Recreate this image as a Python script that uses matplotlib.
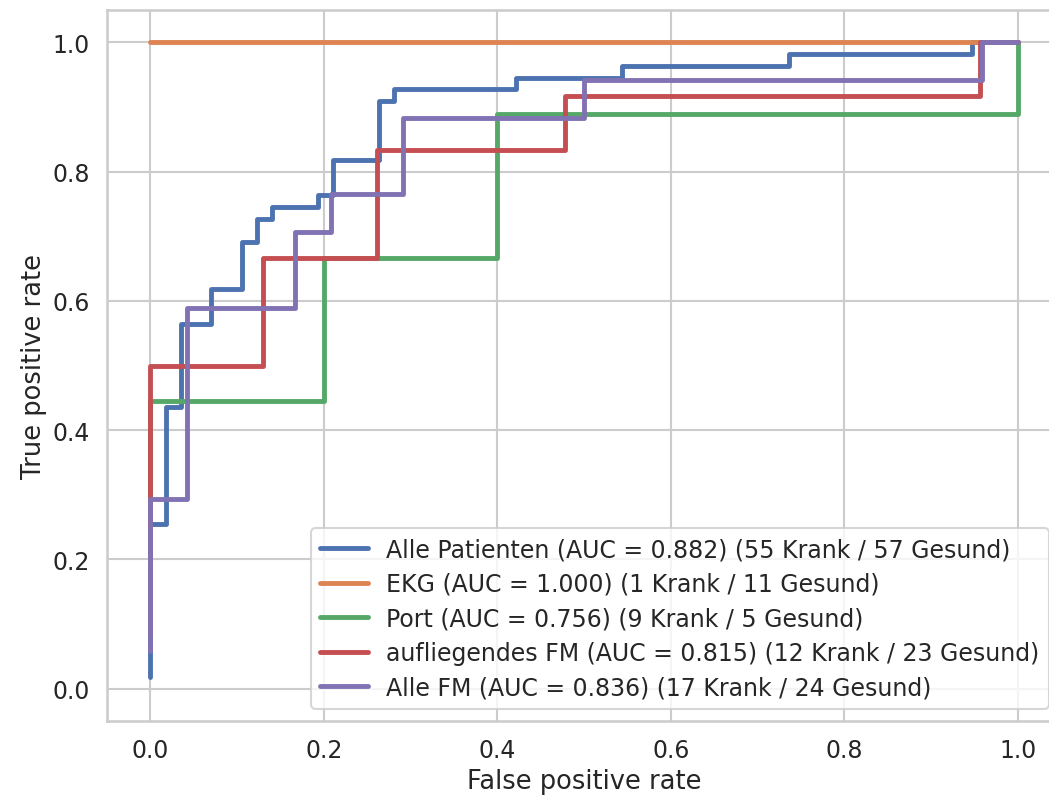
import numpy as np
import matplotlib
matplotlib.use("Agg")
import matplotlib.pyplot as plt
import seaborn as sns

# ROC points as counts: fpr in units of 1/n_neg, tpr in units of 1/n_pos
labels = ["Alle Patienten", "EKG", "Port", "aufliegendes FM", "Alle FM"]
aucs = [0.882, 1.000, 0.756, 0.815, 0.836]
n_pos = [55, 1, 9, 12, 17]   # Krank
n_neg = [57, 11, 5, 23, 24]  # Gesund

fp_all = [0, 0, 1, 1, 2, 2, 4, 4, 6, 6, 7, 7, 8, 8, 11, 11, 12, 12, 15, 15,
          16, 16, 24, 24, 31, 31, 42, 42, 54, 54, 57]
tp_all = [1, 14, 14, 24, 24, 31, 31, 34, 34, 38, 38, 40, 40, 41, 41, 42, 42, 45, 45, 50,
          50, 51, 51, 52, 52, 53, 53, 54, 54, 55, 55]
fp_ekg = [0, 11]
tp_ekg = [1, 1]
fp_port = [0, 0, 1, 1, 2, 2, 5, 5]
tp_port = [1, 4, 4, 6, 6, 8, 8, 9]
fp_auf = [0, 0, 3, 3, 6, 6, 11, 11, 22, 22, 23]
tp_auf = [1, 6, 6, 8, 8, 10, 10, 11, 11, 12, 12]
fp_fm = [0, 0, 1, 1, 4, 4, 5, 5, 7, 7, 12, 12, 23, 23, 24]
tp_fm = [1, 5, 5, 10, 10, 12, 12, 13, 13, 15, 15, 16, 16, 17, 17]

fps = [fp_all, fp_ekg, fp_port, fp_auf, fp_fm]
tps = [tp_all, tp_ekg, tp_port, tp_auf, tp_fm]

sns.set_theme(style="whitegrid", context="talk")
colors = sns.color_palette("deep")

fig = plt.figure(figsize=(10.49, 8.03), dpi=100)
# right edge of the axes sits just past the figure, like the cropped original
ax = fig.add_axes([107 / 1049, 81 / 803, 954 / 1049, 711 / 803])

for i, lab in enumerate(labels):
    fpr = np.array(fps[i]) / n_neg[i]
    tpr = np.array(tps[i]) / n_pos[i]
    ax.plot(fpr, tpr, lw=3.5, color=colors[i],
            label=f"{lab} (AUC = {aucs[i]:.3f}) ({n_pos[i]} Krank / {n_neg[i]} Gesund)")

ax.set_xlim(-0.05, 1.05)
ax.set_ylim(-0.05, 1.05)
ax.set_xticks(np.arange(0, 1.01, 0.2))
ax.set_yticks(np.arange(0, 1.01, 0.2))
ax.tick_params(labelsize=17)
ax.set_xlabel("False positive rate", fontsize=18.5)
ax.set_ylabel("True positive rate", fontsize=18.5)
ax.legend(loc="lower right", fontsize=17, labelspacing=0.45)

fig.savefig("out.png", dpi=100)
